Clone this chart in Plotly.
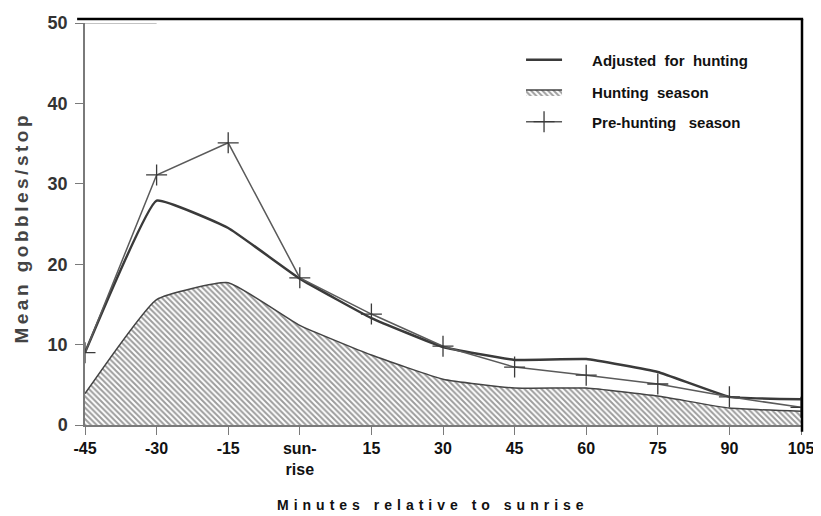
import plotly.graph_objects as go

minutes = [-45, -30, -15, 0, 15, 30, 45, 60, 75, 90, 105]
tick_labels = ["-45", "-30", "-15", "sun-<br>rise", "15", "30", "45", "60", "75", "90", "105"]
adjusted = [9.0, 27.9, 24.5, 18.2, 13.3, 9.7, 8.1, 8.2, 6.6, 3.5, 3.2]
hunting = [3.9, 15.6, 17.7, 12.4, 8.7, 5.7, 4.6, 4.6, 3.6, 2.1, 1.7]
pre_hunting = [9.0, 31.1, 35.1, 18.3, 13.8, 9.8, 7.2, 6.2, 5.1, 3.5, 2.2]
y_ticks = [0, 10, 20, 30, 40, 50]

FONT = "Liberation Sans, Arial, sans-serif"
PAD = "&nbsp;" * 6

fig = go.Figure()

fig.add_trace(go.Scatter(
    x=minutes, y=adjusted, mode="lines", name=PAD + "Adjusted&nbsp;&nbsp;for&nbsp;&nbsp;hunting",
    line=dict(color="#3a3a3a", width=2.5, shape="spline", smoothing=0.3),
    legend="legend",
))
fig.add_trace(go.Scatter(
    x=minutes, y=hunting, mode="lines", name=PAD + "Hunting&nbsp;&nbsp;season",
    fill="tozeroy", fillcolor="rgba(0,0,0,0)",
    fillpattern=dict(shape="\\", size=4, solidity=0.5, fgcolor="#3a3a3a", bgcolor="white"),
    line=dict(color="#444444", width=1.5, shape="spline", smoothing=0.4),
    legend="legend2",
))
fig.add_trace(go.Scatter(
    x=minutes, y=pre_hunting, mode="lines+markers", name=PAD + "Pre-hunting&nbsp;&nbsp;&nbsp;season",
    line=dict(color="#5a5a5a", width=1.5),
    marker=dict(symbol="cross-thin", size=15, line=dict(color="#3a3a3a", width=1.3)),
    legend="legend3",
))

# frame decorations (top and right black border, short top gridline)
fig.add_shape(type="line", xref="paper", yref="paper", x0=-0.011, x1=1.003, y0=1.01, y1=1.01,
              line=dict(color="black", width=2.5))
fig.add_shape(type="line", xref="paper", yref="paper", x0=1.0014, x1=1.0014, y0=-0.017, y1=1.01,
              line=dict(color="black", width=2.5))
fig.add_shape(type="line", xref="x", yref="y", x0=-45, x1=-30, y0=50, y1=50,
              line=dict(color="#888888", width=1.2))

legend_common = dict(
    xanchor="left", yanchor="middle", bgcolor="rgba(0,0,0,0)",
    font=dict(family=FONT, size=15, color="#111111", weight="bold"),
    itemwidth=36,
)
fig.update_layout(
    showlegend=True,
    legend=dict(x=0.609, y=0.908, **legend_common),
    legend2=dict(x=0.609, y=0.828, **legend_common),
    legend3=dict(x=0.609, y=0.754, **legend_common),
)

fig.add_annotation(
    text='<span style="letter-spacing:5px">Minutes relative to sunrise</span>',
    xref="paper", yref="paper", x=0.486, y=-0.199, xanchor="center", yanchor="middle",
    showarrow=False, font=dict(family=FONT, size=14, color="#111111", weight="bold"),
)
fig.add_annotation(
    text='<span style="letter-spacing:3.5px">Mean gobbles/stop</span>',
    xref="paper", yref="paper", x=-0.09, y=0.49, xanchor="center", yanchor="middle",
    textangle=-90, showarrow=False, font=dict(family=FONT, size=19, color="#444444", weight="bold"),
)

# page body has an 8px default margin, so the figure is sized/offset to compensate
fig.update_layout(
    width=813, height=508,
    margin=dict(l=77, r=20, t=15, b=91),
    paper_bgcolor="white", plot_bgcolor="white",
    font=dict(family=FONT, color="#222222"),
    xaxis=dict(
        range=[-45, 105], tickmode="array", tickvals=minutes, ticktext=tick_labels,
        showgrid=False, zeroline=False, showline=True, linecolor="#7a7a7a", linewidth=1.5,
        ticks="outside", ticklen=8, tickcolor="#7a7a7a", tickwidth=1.3, ticklabelstandoff=0,
        tickfont=dict(family=FONT, size=16, color="#111111", weight="bold"),
        automargin=False,
    ),
    yaxis=dict(
        range=[0, 50], tickmode="array", tickvals=y_ticks,
        showgrid=False, zeroline=False, showline=True, linecolor="#7a7a7a", linewidth=1.5,
        ticks="outside", ticklen=8, tickcolor="#7a7a7a", tickwidth=1.3, ticklabelstandoff=4,
        tickfont=dict(family=FONT, size=18, color="#333333", weight="bold"),
        automargin=False,
    ),
)

fig.write_html("out.html")
